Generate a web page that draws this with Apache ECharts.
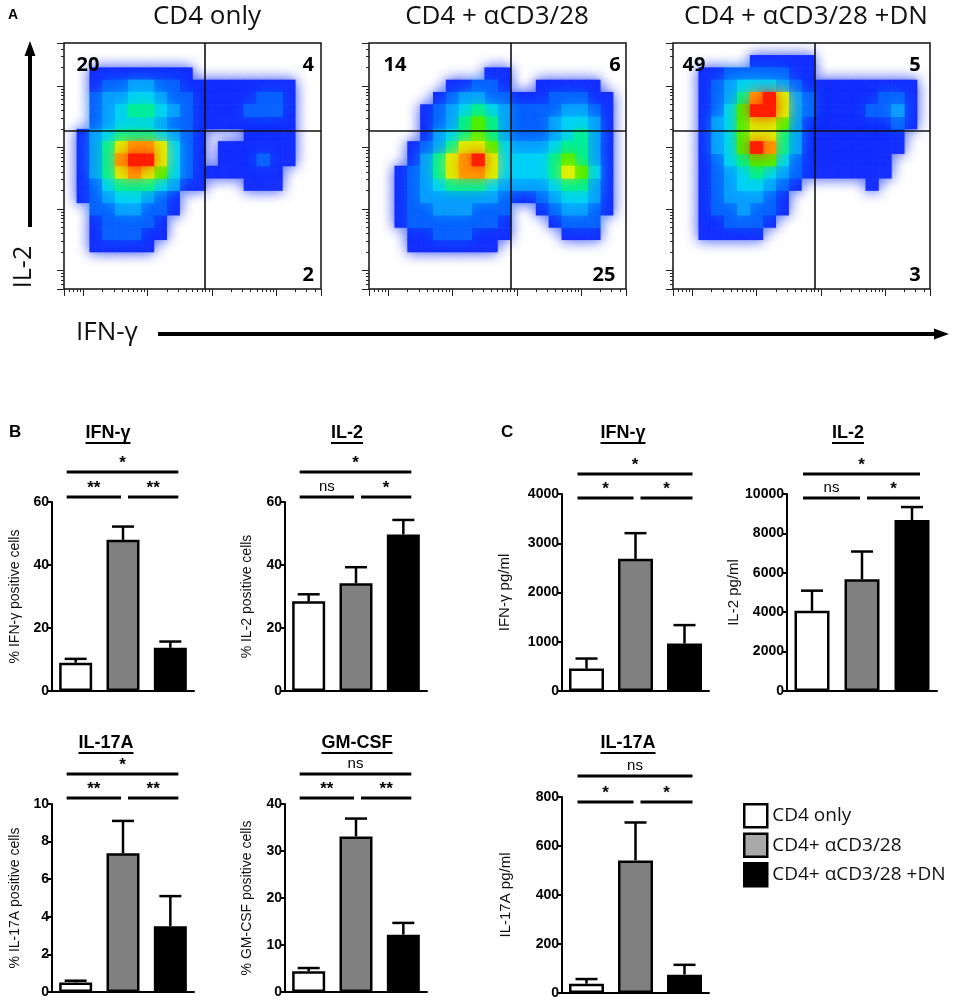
<!DOCTYPE html>
<html>
<head>
<meta charset="utf-8">
<script src="https://cdn.jsdelivr.net/npm/echarts@6/dist/echarts.min.js"></script>
<style>
  html, body { margin: 0; padding: 0; background: #fff; }
  #main { width: 957px; height: 1002px; }
</style>
</head>
<body>
<div id="main"></div>
<script>
// ---------- data ----------
var groups = ['CD4 only', 'CD4+ αCD3/28', 'CD4+ αCD3/28 +DN'];

// panel A: flow plots, density level per cell (0 = empty ... 9 = red), rows from top
var flowTitles = ['CD4 only', 'CD4 + αCD3/28', 'CD4 + αCD3/28 +DN'];
var quadrantPct = [['20', '4', '2'], ['14', '6', '25'], ['49', '5', '3']]; // UL, UR, LR
var gateX = [780, 810, 810];
var gateY = 1860;

var density1 = [
  '00000000000000000000',
  '00000000000000000000',
  '00111111110000000000',
  '00122332211111111100',
  '00233443221111122100',
  '00234554321111222100',
  '00234443221111111100',
  '01345554321000111100',
  '01357887421011111100',
  '01358997421011121100',
  '01357876421111111000',
  '01245554311000111000',
  '01234432100000000000',
  '00223322100000000000',
  '00122221000000000000',
  '00122211000000000000',
  '00111110000000000000',
  '00000000000000000000',
  '00000000000000000000',
  '00000000000000000000'
];
var density2 = [
  '00000000000000000000',
  '00000000000000000000',
  '00000000011000000000',
  '00000011221001111100',
  '00000123322111222110',
  '00001234543222233210',
  '00001235653222344310',
  '00001345653222345310',
  '00012357764333455310',
  '00013578974444565310',
  '00123578874444576410',
  '00123455543333455310',
  '00123333332112344310',
  '00122333222001233210',
  '00122222221000122200',
  '00011222111000011100',
  '00011111110000000000',
  '00000000000000000000',
  '00000000000000000000',
  '00000000000000000000'
];
var density3 = [
  '00000000000000000000',
  '00000011111000000000',
  '00112222211000000000',
  '00123444321111111110',
  '00123589732111112210',
  '00124699732111122310',
  '00134677631111111210',
  '00134677531111111100',
  '00134698531111111100',
  '00124566421111111000',
  '00123454321111111000',
  '00123443210000010000',
  '00123332100000000000',
  '00122322100000000000',
  '00112221000000000000',
  '00111110000000000000',
  '00000000000000000000',
  '00000000000000000000',
  '00000000000000000000',
  '00000000000000000000'
];
var densities = [density1, density2, density3];

// panels B and C: mean and SEM per group
var ifngPct = [9.0, 48.0, 13.7],   ifngPctSem = [1.2, 4.2, 2.0];
var il2Pct = [28.5, 34.2, 49.7],   il2PctSem = [2.2, 5.1, 4.6];
var il17Pct = [0.51, 7.38, 3.5],   il17PctSem = [0.09, 1.72, 1.6];
var gmcsfPct = [4.4, 33.1, 12.2],  gmcsfPctSem = [0.7, 3.8, 2.5];
var ifngPg = [455, 2683, 964],     ifngPgSem = [204, 522, 374];
var il2Pg = [4075, 5671, 8676],    il2PgSem = [1018, 1409, 662];
var il17Pg = [38, 541, 75],        il17PgSem = [19, 155, 40];

var sigPairs = [[0, 1], [1, 2], [0, 2]];
var sigIfngPct = ['**', '**', '*'];
var sigIl2Pct = ['ns', '*', '*'];
var sigIl17Pct = ['**', '**', '*'];
var sigGmcsfPct = ['**', '**', 'ns'];
var sigIfngPg = ['*', '*', '*'];
var sigIl2Pg = ['ns', '*', '*'];
var sigIl17Pg = ['*', '*', 'ns'];

// ---------- layout / style ----------
var groupColors = ['#ffffff', '#808080', '#000000'];
var legendColors = ['#ffffff', '#a8a8a8', '#000000'];
var levelColors = ['#1530ff', '#0a62ff', '#0a9cff', '#00d0f8', '#00ee9a', '#4cee00', '#dcf000', '#ff9a00', '#ff1e00'];
var flowLeft = [64, 369, 673];
var flowTitleX = [207, 497, 806];
var quadPos = [
  [[11.8, 21900], [31500, 21900], [31500, 8.45]],
  [[12.7, 21900], [33700, 21900], [22700, 8.45]],
  [[10.6, 21900], [29200, 21900], [29200, 8.45]]
];

var barPanels = [
  { title: 'IFN-γ', tx: 108, ty: 433, name: '% IFN-γ positive cells', mean: ifngPct, sem: ifngPctSem, sig: sigIfngPct, max: 60, step: 20,
    left: 52, top: 502, width: 142, height: 189, barW: 33, gap: 30, low: -5, high: -30 },
  { title: 'IL-2', tx: 347, ty: 433, name: '% IL-2 positive cells', mean: il2Pct, sem: il2PctSem, sig: sigIl2Pct, max: 60, step: 20,
    left: 285, top: 502, width: 142, height: 189, barW: 33, gap: 31, low: -5, high: -30 },
  { title: 'IFN-γ', tx: 623, ty: 433, name: 'IFN-γ pg/ml', mean: ifngPg, sem: ifngPgSem, sig: sigIfngPg, max: 4000, step: 1000,
    left: 562, top: 494, width: 147, height: 197, barW: 35, gap: 50, low: 4, high: -20 },
  { title: 'IL-2', tx: 848, ty: 433, name: 'IL-2 pg/ml', mean: il2Pg, sem: il2PgSem, sig: sigIl2Pg, max: 10000, step: 2000,
    left: 787, top: 494, width: 150, height: 197, barW: 35, gap: 46, low: 4, high: -20 },
  { title: 'IL-17A', tx: 106, ty: 743, name: '% IL-17A positive cells', mean: il17Pct, sem: il17PctSem, sig: sigIl17Pct, max: 10, step: 2,
    left: 52, top: 804, width: 142, height: 188, barW: 33, gap: 30, low: -6, high: -30 },
  { title: 'GM-CSF', tx: 357, ty: 743, name: '% GM-CSF positive cells', mean: gmcsfPct, sem: gmcsfPctSem, sig: sigGmcsfPct, max: 40, step: 10,
    left: 285, top: 804, width: 142, height: 188, barW: 33, gap: 31, low: -6, high: -30 },
  { title: 'IL-17A', tx: 628, ty: 743, name: 'IL-17A pg/ml', mean: il17Pg, sem: il17PgSem, sig: sigIl17Pg, max: 800, step: 200,
    left: 562, top: 797, width: 147, height: 196, barW: 35, gap: 49, low: 5, high: -21 }
];

var SANS = 'Liberation Sans, Arial, sans-serif';
var OPEN = 'Open Sans, sans-serif';

var ctx = document.createElement('canvas').getContext('2d');
function textWidth(t, font) { ctx.font = font; return ctx.measureText(t).width; }

var chart = echarts.init(document.getElementById('main'), null, { renderer: 'canvas' });

var option = {
  animation: false,
  textStyle: { fontFamily: SANS },
  grid: [], xAxis: [], yAxis: [], series: [], graphic: [],
  visualMap: {
    type: 'piecewise', show: false, seriesIndex: [0, 2, 4], dimension: 2,
    pieces: levelColors.map(function (c, i) { return { value: i + 1, color: c }; })
  },
  legend: {
    orient: 'vertical', left: 743, top: 803, padding: 0, itemWidth: 23, itemHeight: 23, itemGap: 4,
    selectedMode: false, icon: 'rect',
    data: groups.map(function (g, j) { return { name: g, itemStyle: { color: legendColors[j] } }; }),
    itemStyle: { borderColor: '#000', borderWidth: 2.5 },
    textStyle: { fontFamily: OPEN, fontSize: 19, lineHeight: 23, color: '#111' }
  }
};

// ---------- panel A ----------
var cells = [];
for (var i = 0; i < 20; i++) cells.push(i);

densities.forEach(function (rows, p) {
  option.grid.push({ left: flowLeft[p], top: 43, width: 257, height: 246, show: true,
    borderColor: '#111', borderWidth: 1.5, backgroundColor: 'transparent', outerBoundsMode: 'none' });
  option.xAxis.push({ gridIndex: p, type: 'category', data: cells, show: false, position: 'top' });
  option.yAxis.push({ gridIndex: p, type: 'category', data: cells, show: false, position: 'right' });
  var logAxis = {
    gridIndex: p, type: 'log', min: 5, max: 50000,
    axisLine: { show: false }, axisLabel: { show: false }, splitLine: { show: false },
    axisTick: { show: true, length: 7, lineStyle: { color: '#222', width: 1 } },
    minorTick: { show: true, length: 3, splitNumber: 9, lineStyle: { color: '#222', width: 1 } }
  };
  option.xAxis.push(Object.assign({ position: 'bottom' }, logAxis));
  option.yAxis.push(Object.assign({ position: 'left' }, logAxis));

  // cells sorted by level so that the soft glow of dense cells lies over sparse ones
  var data = [];
  rows.forEach(function (row, r) {
    for (var c = 0; c < row.length; c++) {
      var lv = +row[c];
      if (lv > 0) data.push({ value: [c, 19 - r, lv],
        itemStyle: { shadowBlur: 14, shadowColor: levelColors[lv - 1] } });
    }
  });
  data.sort(function (a, b) { return a.value[2] - b.value[2]; });
  option.series.push({ type: 'heatmap', xAxisIndex: 2 * p, yAxisIndex: 2 * p, data: data, silent: true,
    itemStyle: { borderWidth: 0 } });

  option.series.push({
    type: 'scatter', xAxisIndex: 2 * p + 1, yAxisIndex: 2 * p + 1, symbolSize: 0, silent: true, z: 5,
    itemStyle: { opacity: 1 },
    data: quadPos[p].map(function (pos, q) { return [pos[0], pos[1], quadrantPct[p][q]]; }),
    label: { show: true, position: 'inside', formatter: function (d) { return d.value[2]; },
      fontFamily: OPEN, fontWeight: 'bold', fontSize: 20, color: '#000' },
    markLine: { silent: true, symbol: 'none', label: { show: false },
      lineStyle: { color: '#111', width: 1.6, type: 'solid' },
      data: [{ xAxis: gateX[p] }, { yAxis: gateY }] }
  });

  option.graphic.push({ type: 'text', x: flowTitleX[p], y: 17,
    style: { text: flowTitles[p], font: '26px ' + OPEN, fill: '#111', align: 'center', verticalAlign: 'middle',
      textAlign: 'center', textVerticalAlign: 'middle' } });
});

// axis captions and arrows of panel A
option.graphic.push(
  { type: 'text', x: 8, y: 15, style: { text: 'A', font: 'bold 14px ' + SANS, fill: '#000', verticalAlign: 'middle', textVerticalAlign: 'middle' } },
  { type: 'text', x: 24, y: 267, rotation: Math.PI / 2,
    style: { text: 'IL-2', font: '25px ' + OPEN, fill: '#111', align: 'center', verticalAlign: 'middle', textAlign: 'center', textVerticalAlign: 'middle' } },
  { type: 'line', shape: { x1: 30, y1: 227, x2: 30, y2: 54 }, style: { stroke: '#000', lineWidth: 4 } },
  { type: 'polygon', shape: { points: [[30, 41], [24.5, 56], [35.5, 56]] }, style: { fill: '#000' } },
  { type: 'text', x: 76, y: 333, style: { text: 'IFN-γ', font: '26px ' + OPEN, fill: '#111', verticalAlign: 'middle', textVerticalAlign: 'middle' } },
  { type: 'line', shape: { x1: 158, y1: 334, x2: 936, y2: 334 }, style: { stroke: '#000', lineWidth: 4 } },
  { type: 'polygon', shape: { points: [[949, 334], [934, 328.5], [934, 339.5]] }, style: { fill: '#000' } },
  { type: 'text', x: 9, y: 432, style: { text: 'B', font: 'bold 17px ' + SANS, fill: '#000', verticalAlign: 'middle', textVerticalAlign: 'middle' } },
  { type: 'text', x: 501, y: 432, style: { text: 'C', font: 'bold 17px ' + SANS, fill: '#000', verticalAlign: 'middle', textVerticalAlign: 'middle' } }
);

// ---------- panels B and C ----------
barPanels.forEach(function (p, k) {
  var gi = 3 + k, ai = 6 + k;
  option.grid.push({ left: p.left, top: p.top, width: p.width, height: p.height, outerBoundsMode: 'none' });
  option.xAxis.push({ gridIndex: gi, type: 'category', data: [0, 1, 2],
    axisLine: { show: true, lineStyle: { color: '#000', width: 2 } },
    axisTick: { show: false }, axisLabel: { show: false }, splitLine: { show: false } });
  option.yAxis.push({ gridIndex: gi, type: 'value', min: 0, max: p.max, interval: p.step,
    name: p.name, nameLocation: 'middle', nameGap: p.gap,
    nameTextStyle: { fontFamily: SANS, fontSize: k === 2 || k === 3 || k === 6 ? 15 : 14, color: '#111' },
    axisLine: { show: true, lineStyle: { color: '#000', width: 2 } },
    axisTick: { show: true, length: 5, lineStyle: { color: '#000', width: 2 } },
    axisLabel: { fontFamily: SANS, fontWeight: 'bold', fontSize: 14, color: '#000', margin: 3,
      formatter: function (v) { return String(v); } },
    splitLine: { show: false } });

  groups.forEach(function (g, j) {
    option.series.push({ type: 'bar', name: g, xAxisIndex: ai, yAxisIndex: ai, barWidth: p.barW, barGap: '-100%',
      silent: true, z: 2,
      data: p.mean.map(function (v, i) { return i === j ? v : '-'; }),
      itemStyle: { color: groupColors[j], borderColor: '#000', borderWidth: 2.5 } });
  });

  // error bars (mean + SEM)
  option.series.push({ type: 'custom', xAxisIndex: ai, yAxisIndex: ai, silent: true, z: 1,
    data: p.mean.map(function (v, i) { return [i, v, v + p.sem[i]]; }),
    renderItem: function (params, api) {
      var base = api.coord([api.value(0), api.value(1)]);
      var top = api.coord([api.value(0), api.value(2)]);
      return { type: 'group', children: [
        { type: 'line', shape: { x1: base[0], y1: base[1], x2: base[0], y2: top[1] }, style: { stroke: '#000', lineWidth: 2.5 } },
        { type: 'line', shape: { x1: base[0] - 11, y1: top[1], x2: base[0] + 11, y2: top[1] }, style: { stroke: '#000', lineWidth: 2.5 } }
      ] };
    } });

  // significance brackets
  option.series.push({ type: 'custom', xAxisIndex: ai, yAxisIndex: ai, silent: true, z: 3,
    data: sigPairs.map(function (s, j) { return [s[0], s[1], j]; }),
    renderItem: function (params, api) {
      var a = api.value(0), b = api.value(1), j = api.value(2);
      var yMax = api.coord([0, p.max])[1];
      var lower = (b - a === 1);
      var y = yMax + (lower ? p.low : p.high);
      var ca = api.coord([a, 0])[0], cb = api.coord([b, 0])[0];
      var x1 = ca - 9, x2 = cb + 8;
      if (lower && a === 0) x2 = cb - 2;
      if (lower && a === 1) x1 = ca + 5;
      var txt = p.sig[j];
      var isNs = txt === 'ns';
      return { type: 'group', children: [
        { type: 'line', shape: { x1: x1, y1: y, x2: x2, y2: y }, style: { stroke: '#000', lineWidth: 3 } },
        { type: 'text', x: (x1 + x2) / 2, y: y - (isNs ? 3 : 0),
          style: { text: txt, font: (isNs ? '15px ' : 'bold 17px ') + SANS, fill: '#000',
            align: 'center', verticalAlign: 'bottom', textAlign: 'center', textVerticalAlign: 'bottom' } }
      ] };
    } });

  // underlined panel title
  var tf = 'bold 18px ' + SANS;
  var w = textWidth(p.title, tf);
  option.graphic.push(
    { type: 'text', x: p.tx, y: p.ty, style: { text: p.title, font: tf, fill: '#000', align: 'center', verticalAlign: 'middle',
      textAlign: 'center', textVerticalAlign: 'middle' } },
    { type: 'line', shape: { x1: p.tx - w / 2, y1: p.ty + 10, x2: p.tx + w / 2, y2: p.ty + 10 }, style: { stroke: '#000', lineWidth: 1.8 } }
  );
});

chart.setOption(option);
</script>
</body>
</html>
